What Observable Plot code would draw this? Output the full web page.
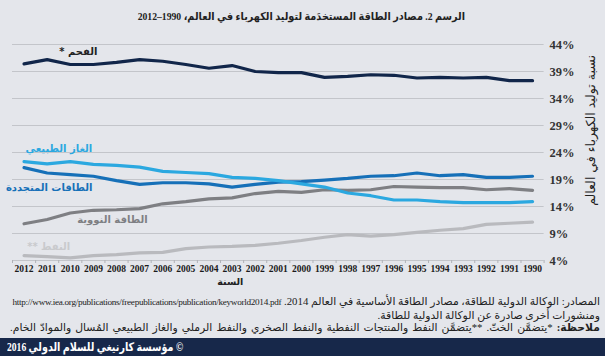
<!DOCTYPE html>
<html><head><meta charset="utf-8">
<script src="https://cdn.jsdelivr.net/npm/d3@7"></script>
<script src="https://cdn.jsdelivr.net/npm/@observablehq/plot@0.6"></script>
<style>
html,body{margin:0;padding:0;background:#e4e6eb;}
#wrap{width:605px;height:356px;position:relative;overflow:hidden;background:#e4e6eb;font-family:"Liberation Serif","DejaVu Sans",serif;color:#222;}
#title{position:absolute;top:0;right:140px;height:36px;direction:rtl;text-align:right;font-size:11px;font-weight:bold;line-height:33px;white-space:nowrap;transform:scaleX(0.88);transform-origin:right center;}
#chart{position:absolute;top:36px;left:0;}
#chart svg{display:block;}
#src{position:absolute;top:295px;right:5px;width:590px;direction:rtl;text-align:right;line-height:12.5px;white-space:nowrap;font-size:10.8px;}
#src .url{font-size:9.2px;letter-spacing:-0.3px;}
#src .note{display:flex;flex-direction:row;justify-content:space-between;width:590px;direction:rtl;}
#footer{position:absolute;left:0;top:338px;width:605px;height:18px;background:#17284a;}
#footer span{position:absolute;left:7px;top:0;color:#fff;direction:rtl;font-size:12px;font-weight:bold;line-height:18px;white-space:nowrap;transform:scaleX(0.8);transform-origin:left center;}
</style>
</head><body>
<div id="wrap">
  <div id="title"></div>
  <div id="chart"></div>
  <div id="src"></div>
  <div id="footer"><span></span></div>
</div>
<script>
const years = [2012, 2011, 2010, 2009, 2008, 2007, 2006, 2005, 2004, 2003, 2002, 2001, 2000, 1999, 1998, 1997, 1996, 1995, 1994, 1993, 1992, 1991, 1990];
const coal = [40.4, 41.2, 40.3, 40.3, 40.7, 41.2, 40.9, 40.3, 39.6, 40.1, 39.0, 38.8, 38.8, 37.9, 38.1, 38.4, 38.3, 37.8, 37.9, 37.8, 37.9, 37.3, 37.3];
const naturalGas = [22.3, 21.9, 22.3, 21.8, 21.6, 21.3, 20.5, 20.3, 20.1, 19.4, 19.2, 18.8, 18.2, 17.6, 16.5, 16.0, 15.2, 15.2, 14.9, 14.7, 14.7, 14.7, 14.9];
const renewables = [21.2, 20.2, 19.9, 19.6, 18.8, 18.1, 18.4, 18.4, 18.2, 17.6, 18.1, 18.5, 18.6, 18.9, 19.2, 19.6, 19.7, 20.2, 19.7, 19.9, 19.4, 19.4, 19.6];
const nuclear = [10.8, 11.6, 12.8, 13.3, 13.4, 13.6, 14.5, 14.9, 15.4, 15.6, 16.4, 16.8, 16.6, 17.1, 17.0, 17.1, 17.7, 17.6, 17.5, 17.5, 17.1, 17.3, 17.0];
const oil = [4.9, 4.7, 4.5, 4.9, 5.1, 5.4, 5.5, 6.2, 6.5, 6.6, 6.8, 7.2, 7.7, 8.3, 8.8, 8.5, 8.8, 9.2, 9.6, 9.9, 10.7, 10.9, 11.1];
const yTicks = [4, 9, 14, 19, 24, 29, 34, 39, 44];
const seriesNames = ["النفط", "الطاقة النووية", "الطاقات المتجددة", "الغاز الطبيعي", "الفحم"];
const seriesLabels = ["النفط **\u200F", "الطاقة النووية", "الطاقات المتجددة", "الغاز الطبيعي", "الفحم *\u200F"];
const titleText = "الرسم 2. مصادر الطاقة المستخدَمة لتوليد الكهرباء في العالم، 1990–2012";
const yLabel = "نسبة توليد الكهرباء في العالم";
const xLabel = "السنة";
const srcLine1 = "المصادر: الوكالة الدولية للطاقة، مصادر الطاقة الأساسية في العالم 2014. ";
const srcUrl = "http://www.iea.org/publications/freepublications/publication/keyworld2014.pdf";
const srcLine2 = "ومنشورات أخرى صادرة عن الوكالة الدولية للطاقة.";
const noteHead = "ملاحظة:";
const noteText = "*يتضمَّن الخثّ. **يتضمَّن النفط والمنتجات النفطية والنفط الصخري والنفط الرملي والغاز الطبيعي المُسال والموادّ الخام.";
const footerText = "© مؤسسة كارنيغي للسلام الدولي 2016";

const seriesValues = [oil, nuclear, renewables, naturalGas, coal];
const colors = ["#b9babe", "#7e7f83", "#1670b8", "#2ba8e0", "#11264a"];
const labelColors = ["#c9cacd", "#7e7f83", "#1670b8", "#2ba8e0", "#222"];

const rows = [];
seriesNames.forEach((s, i) => years.forEach((y, j) => rows.push({series: s, year: y, value: seriesValues[i][j]})));

const labelStyle = [
  {idx: 2, dx: 0, dy: -11.5, anchor: "end"},
  {idx: 5, dx: 8, dy: 11, anchor: "end"},
  {idx: 3, dx: -1, dy: 12, anchor: "end"},
  {idx: 0, dx: 1.5, dy: -13, anchor: "start"},
  {idx: 3, dx: 4, dy: -13, anchor: "end"}
];

const boundaries = years.map(y => y + 0.5).concat([years[years.length - 1] - 0.5]);

const labelMarks = seriesNames.map((s, i) => {
  const st = labelStyle[i];
  return Plot.text([{year: years[st.idx], value: seriesValues[i][st.idx], label: seriesLabels[i]}], {
    x: "year", y: "value", text: "label", dx: st.dx, dy: st.dy, textAnchor: st.anchor,
    fill: labelColors[i], fontSize: 10, fontWeight: "bold", fontFamily: "DejaVu Sans"
  });
});

const chart = Plot.plot({
  width: 605,
  height: 256,
  marginTop: 8,
  marginBottom: 32,
  marginLeft: 12,
  marginRight: 61.4,
  style: {background: "transparent", color: "#222", overflow: "visible"},
  x: {domain: [1989.5, 2012.5], reverse: true},
  y: {domain: [4, 44]},
  color: {domain: seriesNames, range: colors},
  marks: [
    Plot.ruleY(yTicks, {stroke: "#c3c5ca", strokeWidth: 1}),
    Plot.axisX(boundaries, {tickSize: 3, text: null, label: null, stroke: "#b0b2b7"}),
    Plot.axisX(years, {tickSize: 0, tickPadding: 4.5, tickFormat: d => String(d), label: null, fontSize: 9.5, fontWeight: "bold", fontFamily: "Liberation Serif", fill: "#1a1a1a"}),
    Plot.axisY(yTicks, {anchor: "right", tickSize: 0, tickPadding: 5.5, tickFormat: d => d + "%", label: null, fontSize: 12.5, fontWeight: "bold", fontFamily: "Liberation Serif", fill: "#333"}),
    Plot.line(rows, {x: "year", y: "value", z: "series", stroke: "series", strokeWidth: 3.2, strokeLinejoin: "round", strokeLinecap: "round"}),
    ...labelMarks,
    Plot.text([yLabel], {frameAnchor: "right", dx: 46.4, dy: -22, rotate: -90, textAnchor: "middle", fontSize: 12.5, fontFamily: "DejaVu Sans", fill: "#222"}),
    Plot.text([xLabel], {frameAnchor: "bottom", dx: -48, dy: 24, fontSize: 9.5, fontWeight: "bold", fontFamily: "DejaVu Sans", fill: "#222"})
  ]
});
document.getElementById("chart").appendChild(chart);
document.getElementById("title").textContent = titleText;
const src = document.getElementById("src");
const l1 = document.createElement("div");
l1.appendChild(document.createTextNode(srcLine1));
const u = document.createElement("span"); u.className = "url"; u.textContent = srcUrl; l1.appendChild(u);
const l2 = document.createElement("div"); l2.textContent = srcLine2;
const l3 = document.createElement("div"); l3.className = "note";
const b = document.createElement("b"); b.textContent = noteHead; l3.appendChild(b);
noteText.split(" ").forEach(w => { const s = document.createElement("span"); s.textContent = w; l3.appendChild(s); });
src.appendChild(l1); src.appendChild(l2); src.appendChild(l3);
document.querySelector("#footer span").textContent = footerText;
</script>
</body></html>
